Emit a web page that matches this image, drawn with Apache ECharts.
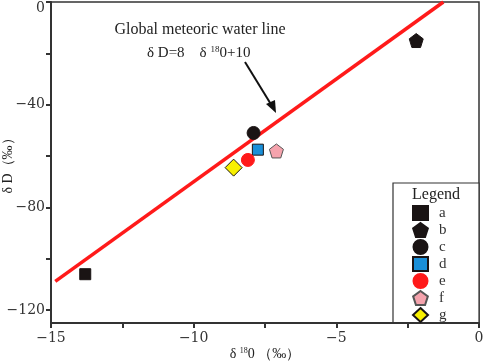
<!DOCTYPE html>
<html><head><meta charset="utf-8">
<script src="https://cdn.jsdelivr.net/npm/echarts@6/dist/echarts.min.js"></script>
<style>html,body{margin:0;padding:0;background:#fff}#c{width:484px;height:362px}</style>
</head><body><div id="c"></div>
<script>
// Data
var seriesNames = ['a','b','c','d','e','f','g'];
var d18O = [-13.8, -2.2, -7.9, -7.75, -8.1, -7.1, -8.6];
var dD   = [-106, -15, -51, -57.5, -61.5, -58, -64.5];
var gmwlX = [-14.85, -1.25];
var gmwlY = [-108.8, 0];
var xTicks = [-15, -12.5, -10, -7.5, -5, -2.5, 0];
var xLabels = [-15, -10, -5, 0];
var yTicks = [-120, -100, -80, -60, -40, -20, 0];
var yLabels = [-120, -80, -40, 0];

var pent = 'path://M0,-10 L9.51,-3.09 L5.88,8.09 L-5.88,8.09 L-9.51,-3.09 Z';
var styles = [
  {symbol:'rect', size:11, color:'#1a1414', border:'#1a1414'},
  {symbol:pent, size:14, color:'#1a1414', border:'#1a1414'},
  {symbol:'circle', size:13, color:'#1a1414', border:'#1a1414'},
  {symbol:'rect', size:11, color:'#1a8fd8', border:'#1a1414'},
  {symbol:'circle', size:13, color:'#ff1a1a', border:'#ff1a1a'},
  {symbol:pent, size:14, color:'#f5a3ad', border:'#555555'},
  {symbol:'diamond', size:17, color:'#f8f000', border:'#1a1414'}
];
var font = '"Liberation Serif","DejaVu Serif",serif';
var tfont = '"DejaVu Serif","Liberation Serif",serif';
var fmt = function(v){ var s = String(v).replace('-', '\u2212'); return v === 0 ? '{z|' + s + '}' : s; };
var zeroRich = {z:{padding:[12,0,0,0], fontFamily:tfont, fontSize:14, color:'#333'}};

var series = [{
  type:'line', name:'GMWL', data: gmwlX.map(function(x,i){return [x,gmwlY[i]];}),
  showSymbol:false, lineStyle:{color:'#ff1a1a', width:3.5}, silent:true, z:1
}];
seriesNames.forEach(function(n,i){
  var s = styles[i];
  series.push({type:'scatter', name:n, data:[[d18O[i], dD[i]]], symbol:s.symbol, symbolSize:s.size,
    itemStyle:{color:s.color, borderColor:s.border, borderWidth:1, opacity:1}, z:3});
});

var chart = echarts.init(document.getElementById('c'));
chart.setOption({
  animation:false,
  grid:{left:51, right:5, top:2, bottom:39, show:true, borderColor:'#333', borderWidth:1.5, outerBoundsMode:'none', containLabel:false},
  xAxis:{type:'value', min:-15, max:0,
    name:'{t|δ }{s|18}{t|0 （‰）}', nameLocation:'middle', nameGap:24, nameMoveOverlap:false,
    nameTextStyle:{rich:{t:{fontFamily:font, fontSize:14, color:'#222'}, s:{fontFamily:font, fontSize:8, color:'#222', verticalAlign:'top', padding:[0,0,6,0]}}},
    axisLine:{onZero:false, lineStyle:{color:'#333', width:2}},
    axisTick:{show:true, inside:false, length:5, lineStyle:{color:'#333', width:2}, customValues:xTicks},
    axisLabel:{customValues:xLabels, formatter:function(v){return String(v).replace('-', '\u2212');}, fontFamily:tfont, fontSize:14, color:'#333', margin:8},
    splitLine:{show:false}},
  yAxis:{type:'value', min:-125, max:0,
    name:'δ D（‰）', nameLocation:'middle', nameGap:36, nameMoveOverlap:false,
    nameTextStyle:{fontFamily:font, fontSize:14, color:'#222'},
    axisLine:{onZero:false, lineStyle:{color:'#333', width:2}},
    axisTick:{show:true, inside:false, length:5, lineStyle:{color:'#333', width:2}, customValues:yTicks},
    axisLabel:{customValues:yLabels, formatter:fmt, rich:zeroRich, fontFamily:tfont, fontSize:14, color:'#333', margin:6},
    splitLine:{show:false}},
  legend:{orient:'vertical', left:412, top:205, itemWidth:15, itemHeight:14, itemGap:1, padding:0, z:20,
    data:seriesNames, textStyle:{fontFamily:font, fontSize:15, color:'#333', padding:[0,0,0,6]}, selectedMode:false},
  graphic:[
    {type:'rect', shape:{x:393, y:183, width:86, height:140}, style:{fill:'#fff', stroke:'#333', lineWidth:1.2}, z:0},
    {type:'text', x:436, y:195, style:{text:'Legend', font:'16px '+font, fill:'#222', align:'center', verticalAlign:'middle'}, z:11},
    {type:'text', x:200, y:30, style:{text:'Global meteoric water line', font:'16px '+font, fill:'#222', align:'center', verticalAlign:'middle'}, z:11},
    {type:'text', x:147, y:53, style:{
      text:'{t|δ D=8    δ }{s|18}{t|0+10}', verticalAlign:'middle',
      rich:{t:{font:'15px '+font, fill:'#222'}, s:{font:'9px '+font, fill:'#222', verticalAlign:'top', padding:[0,0,6,0]}}}, z:11},
    {type:'line', shape:{x1:245, y1:62, x2:272, y2:106}, style:{stroke:'#111', lineWidth:2}, z:11},
    {type:'polygon', shape:{points:[[276,113],[266,104],[275,100]]}, style:{fill:'#111'}, z:11}
  ],
  series:series
});
</script></body></html>
